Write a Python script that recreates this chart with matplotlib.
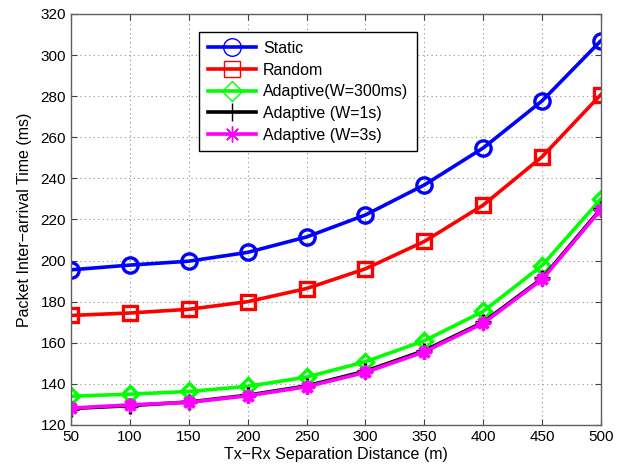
import matplotlib
matplotlib.use("Agg")
import matplotlib.pyplot as plt

plt.rcParams['font.family'] = ['Liberation Sans', 'DejaVu Sans']

distance = [50, 100, 150, 200, 250, 300, 350, 400, 450, 500]
static = [195.5, 197.8, 199.7, 204.0, 211.5, 222.2, 236.8, 254.8, 277.7, 307.0]
random_sel = [173.3, 174.5, 176.3, 180.0, 186.4, 196.0, 209.3, 227.0, 250.5, 280.8]
adapt_300ms = [134.0, 135.0, 136.3, 138.8, 143.3, 150.8, 161.0, 175.3, 197.6, 230.0]
adapt_1s = [128.0, 129.4, 131.2, 134.5, 139.0, 146.2, 156.2, 170.0, 191.3, 225.3]
adapt_3s = [128.2, 129.8, 131.0, 134.2, 138.6, 145.6, 155.6, 169.5, 190.8, 224.8]

series = [
    ("Static", static, "#0000ff", "o", 11),
    ("Random", random_sel, "#ff0000", "s", 9.5),
    ("Adaptive(W=300ms)", adapt_300ms, "#00ff00", "D", 8.5),
    ("Adaptive (W=1s)", adapt_1s, "#000000", "+", 11),
    ("Adaptive (W=3s)", adapt_3s, "#ff00ff", (8, 2, 0), 10),
]

fig = plt.figure(figsize=(6.36, 4.72), dpi=100)
ax = fig.add_axes([0.1116, 0.0996, 0.8333, 0.8708])

for name, vals, col, mk, ms in series:
    ax.plot(distance, vals, color=col, lw=2.6, marker=mk, ms=ms,
            mfc="none", mec=col, mew=2.4, label=name)

ax.set_xlim(50, 500)
ax.set_ylim(120, 320)
ax.set_xticks(distance)
ax.set_yticks(range(120, 321, 20))
ax.grid(True, linestyle=(0, (1, 3)), color="#909090", lw=0.8)
ax.tick_params(direction="in", top=True, right=True, labelsize=11, length=4,
               color="#404040")
for sp in ax.spines.values():
    sp.set_color("#606060")
    sp.set_linewidth(1.0)

ax.set_xlabel("Tx\u2212Rx Separation Distance (m)", fontsize=11.5, labelpad=2)
ax.set_ylabel("Packet Inter\u2212arrival Time (ms)", fontsize=11.5, labelpad=6)

leg = ax.legend(loc="upper left", bbox_to_anchor=(0.2415, 0.956), fontsize=11.5,
                handlelength=3.0, fancybox=False, framealpha=1,
                edgecolor="black", borderpad=0.55, labelspacing=0.42,
                handletextpad=0.45, borderaxespad=0)
leg.get_frame().set_linewidth(1.0)
# legend markers are drawn thin, as in the original
for ln in leg.get_lines():
    ln.set_markeredgewidth(1.0)
    ln.set_markersize(ln.get_markersize() * 1.15)

fig.savefig("out.png", dpi=100)
